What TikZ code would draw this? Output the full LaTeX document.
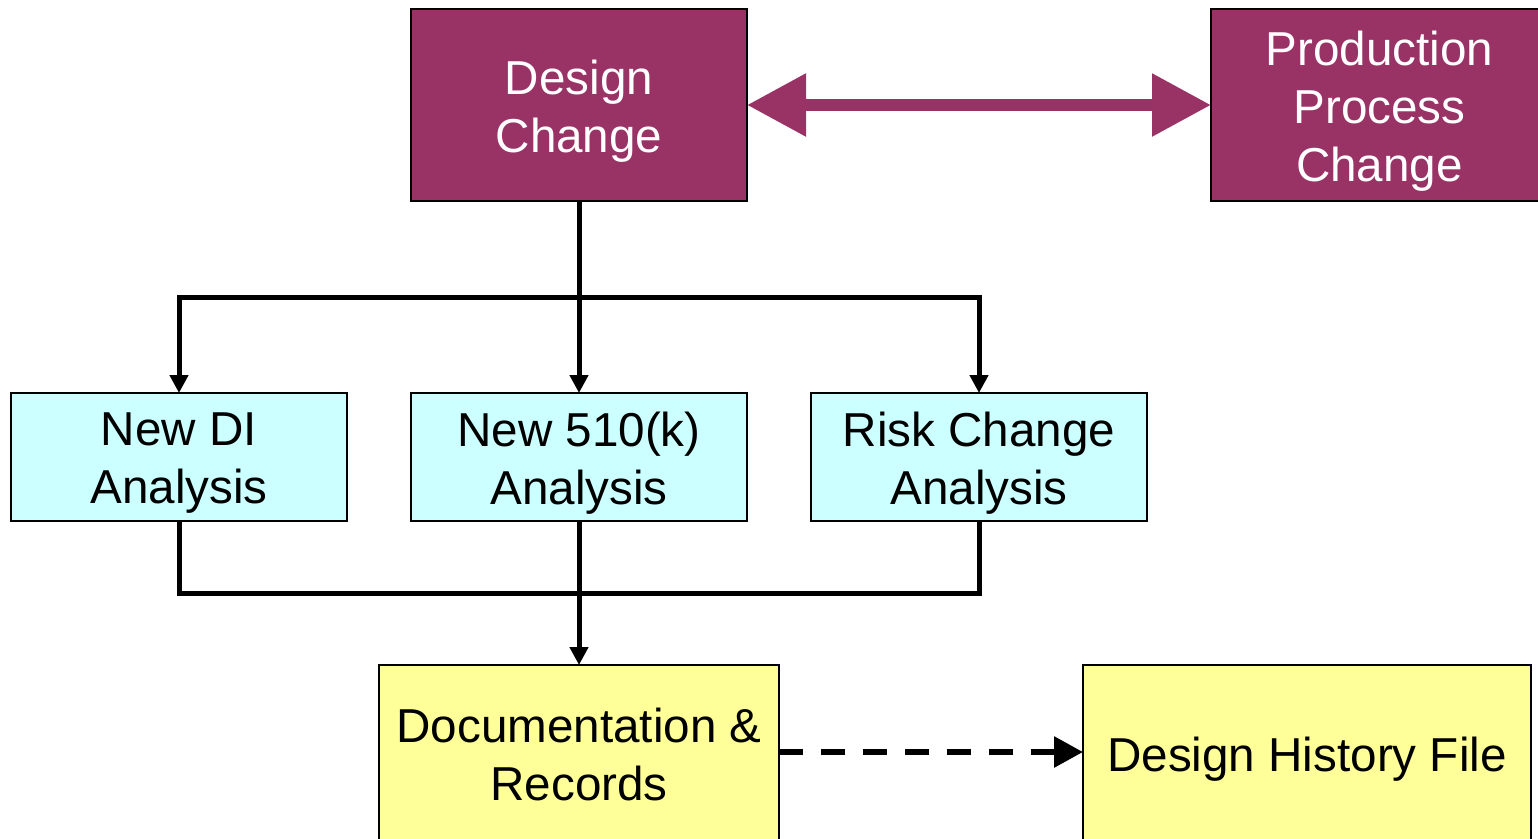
\documentclass[tikz,border=0pt]{standalone}
\usepackage{fontspec}
\setmainfont{Liberation Sans}
\usetikzlibrary{arrows.meta}
\definecolor{plum}{HTML}{993366}
\definecolor{paleaqua}{HTML}{CCFFFF}
\definecolor{paleyellow}{HTML}{FFFF99}
\tikzset{
  box/.style={draw=black, line width=2pt, rectangle, inner sep=0pt, outer sep=0pt},
  changebox/.style={box, fill=plum, minimum height=192pt},
  analysisbox/.style={box, fill=paleaqua, minimum width=336pt, minimum height=128pt},
  recordbox/.style={box, fill=paleyellow, minimum height=180pt},
  boxtext/.style={inner sep=0pt, align=center, font=\fontsize{47.6}{58}\selectfont},
  flow/.style={draw=black, line width=5pt},
  flowarrow/.style={flow, -{Triangle[width=18pt,length=18pt]}},
  linkarrow/.style={draw=plum, line width=12pt, {Triangle[width=60pt,length=59pt]}-{Triangle[width=60pt,length=59pt]}},
  filearrow/.style={draw=black, line width=6pt, dash pattern=on 24pt off 18pt, -{Triangle[width=30pt,length=29pt]}}
}
\begin{document}
\begin{tikzpicture}[x=1pt, y=-1pt]
  \useasboundingbox (0,0) rectangle (1538,838);
  \clip (0,0) rectangle (1538,838);
  \fill[white] (0,0) rectangle (1538,838);

  % top row
  \node[changebox, minimum width=336pt] (dc) at (579,105) {};
  \node[changebox, minimum width=337pt] (pp) at (1379.5,105) {};
  \node[boxtext, text=white] (dct) at ([yshift=-6pt]dc.center) {Design\\Change};
  \node[boxtext, text=white] (ppt) at ([yshift=-6pt]pp.center) {Production\\Process\\Change};

  % analysis row
  \node[analysisbox] (di)   at (179,457) {};
  \node[analysisbox] (k510) at (579,457) {};
  \node[analysisbox] (risk) at (979,457) {};
  \node[boxtext] (dit)   at ([yshift=-6pt]di.center)   {New DI\\Analysis};
  \node[boxtext] (k510t) at ([yshift=-6pt]k510.center) {New 510(k)\\Analysis};
  \node[boxtext] (riskt) at ([yshift=-6pt]risk.center) {Risk Change\\Analysis};

  % records row
  \node[recordbox, minimum width=400pt] (doc) at (579,755) {};
  \node[recordbox, minimum width=448pt] (dhf) at (1307,755) {};
  \node[boxtext] (doct) at ([yshift=1pt]doc.center)  {Documentation \&\\Records};
  \node[boxtext] (dhft) at ([yshift=-4pt]dhf.center) {Design History File};

  % branching points
  \coordinate (split) at (579,297);
  \coordinate (merge) at (579,593);

  % connectors
  \draw[linkarrow] (dc.east) -- (pp.west);

  \draw[flow] (dc.south) -- (split);
  \draw[flowarrow] (split) -| (di.north);
  \draw[flowarrow] (split) -| (risk.north);
  \draw[flowarrow] (split) -- (k510.north);

  \draw[flow] (di.south) |- (merge);
  \draw[flow] (risk.south) |- (merge);
  \draw[flow] (k510.south) -- (merge);
  \draw[flowarrow] (merge) -- (doc.north);

  \draw[filearrow] ([yshift=3pt]doc.east) -- ([yshift=3pt]dhf.west);
\end{tikzpicture}
\end{document}
